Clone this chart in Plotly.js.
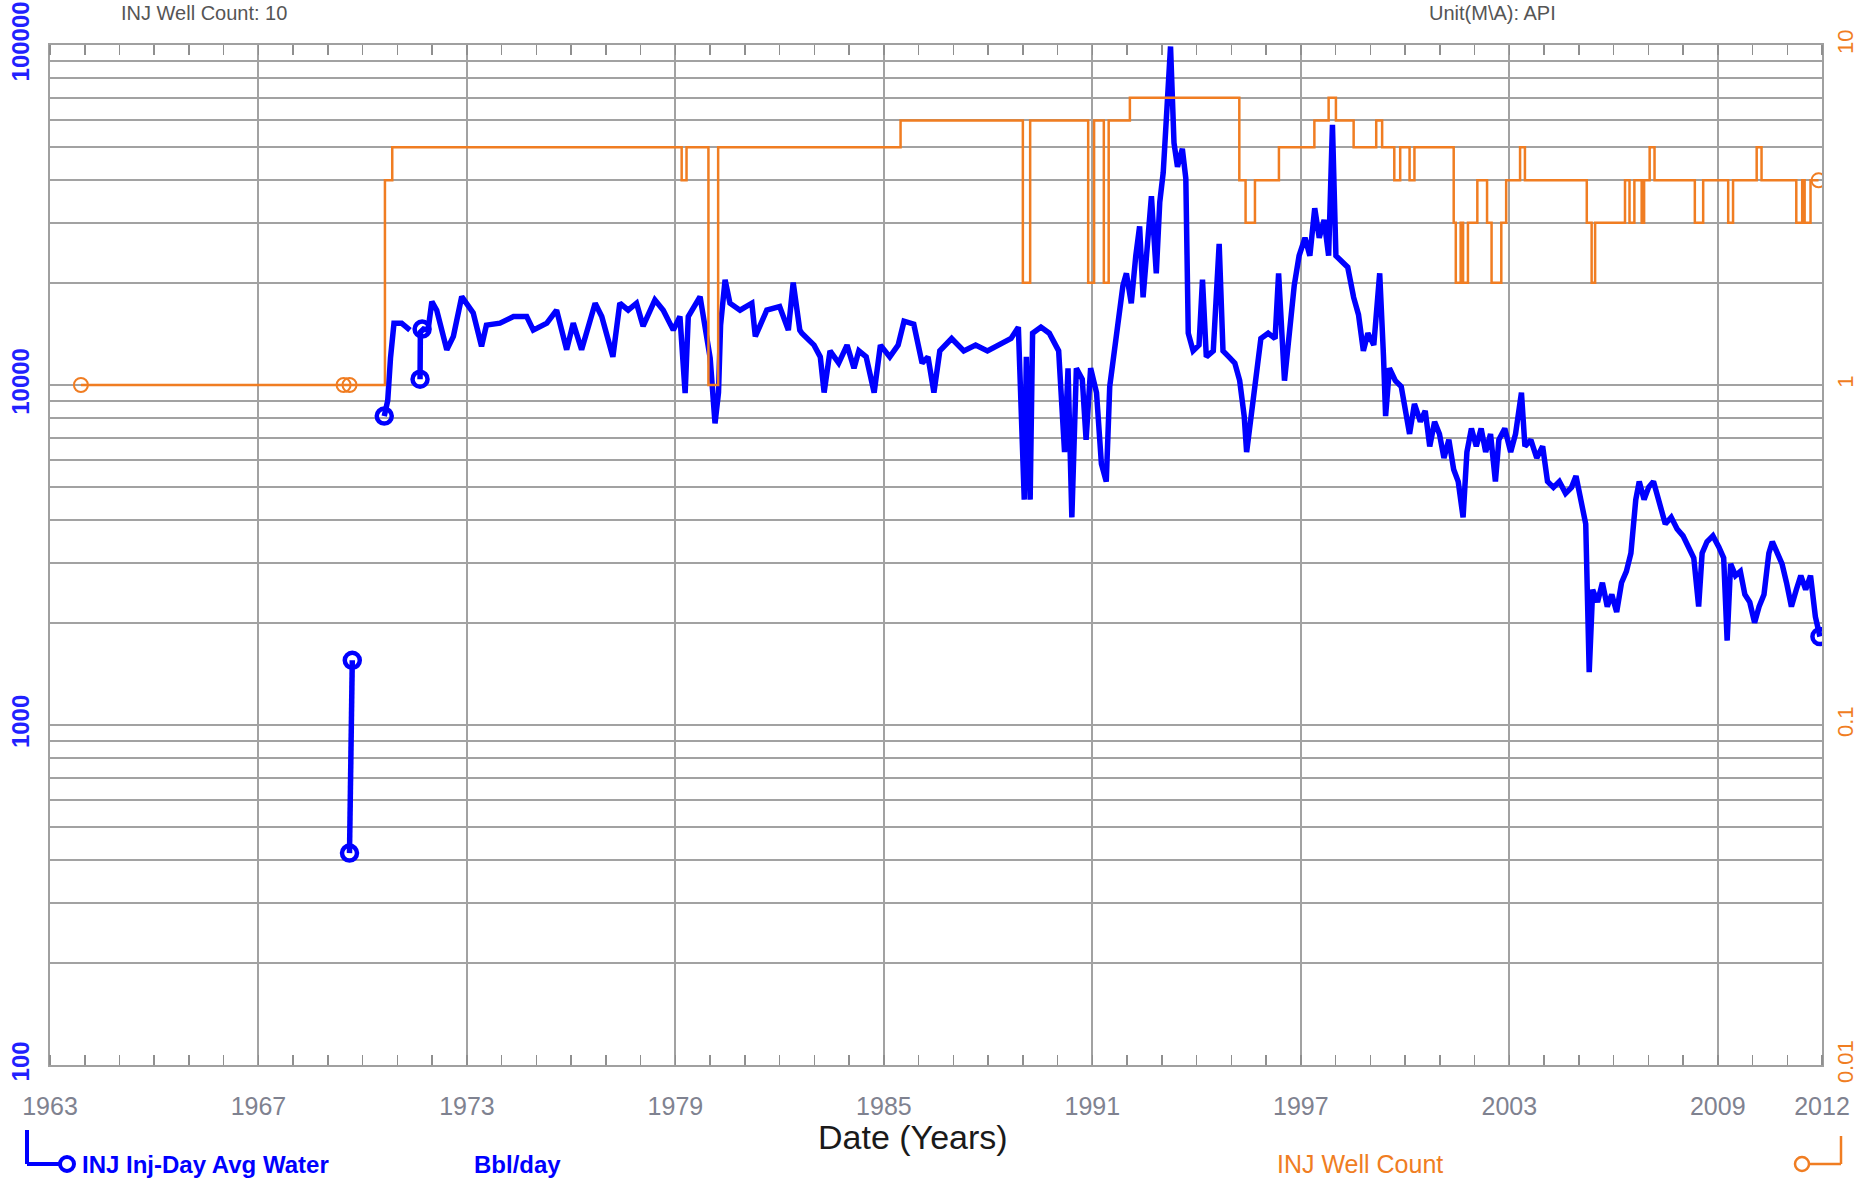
<!DOCTYPE html>
<html><head><meta charset="utf-8">
<script src="https://cdn.plot.ly/plotly-3.0.1.min.js"></script>
<style>html,body{margin:0;padding:0;background:#fff;}#chart{width:1865px;height:1181px;}</style>
</head><body><div id="chart"></div>
<script>
// ---- Data: INJ Inj-Day Avg Water (Bbl/day), null = gap between segments ----
const waterYears = [
 1969.62, 1969.64, 1969.70, null,
 1970.62, 1970.72, 1970.80, 1970.90, 1971.12, 1971.36, null,
 1971.65, 1971.66, 1971.75, 1971.88, 1971.99, 1972.13, 1972.42, 1972.61, 1972.85, 1973.18,
 1973.42, 1973.56, 1973.95, 1974.34, 1974.72, 1974.91, 1975.30, 1975.58, 1975.87, 1976.06,
 1976.30, 1976.69, 1976.88, 1977.20, 1977.40, 1977.64, 1977.88, 1978.07, 1978.41, 1978.65,
 1978.94, 1979.13, 1979.28, 1979.37, 1979.71, 1979.85, 1980.00, 1980.14, 1980.24, 1980.30,
 1980.43, 1980.57, 1980.86, 1981.20, 1981.30, 1981.63, 1982.00, 1982.25, 1982.39, 1982.58,
 1982.64, 1982.99, 1983.17, 1983.28, 1983.45, 1983.70, 1983.94, 1984.14, 1984.28, 1984.49,
 1984.72, 1984.90, 1985.17, 1985.41, 1985.58, 1985.86, 1986.10, 1986.27, 1986.44, 1986.61,
 1986.95, 1987.30, 1987.64, 1987.98, 1988.32, 1988.66, 1988.87, 1989.04, 1989.10, 1989.21,
 1989.28, 1989.52, 1989.76, 1990.03, 1990.20, 1990.30, 1990.41, 1990.54, 1990.71, 1990.82,
 1990.95, 1991.12, 1991.26, 1991.40, 1991.50, 1991.64, 1991.74, 1991.88, 1991.98, 1992.12,
 1992.25, 1992.36, 1992.46, 1992.60, 1992.70, 1992.84, 1992.94, 1993.04, 1993.14, 1993.25,
 1993.35, 1993.45, 1993.59, 1993.69, 1993.76, 1993.90, 1994.07, 1994.17, 1994.28, 1994.48,
 1994.65, 1994.76, 1994.93, 1995.10, 1995.24, 1995.37, 1995.44, 1995.58, 1995.71, 1995.85,
 1996.06, 1996.26, 1996.36, 1996.47, 1996.53, 1996.67, 1996.81, 1996.95, 1997.12, 1997.26,
 1997.40, 1997.53, 1997.67, 1997.80, 1997.91, 1998.01, 1998.18, 1998.35, 1998.52, 1998.66,
 1998.80, 1998.93, 1999.10, 1999.27, 1999.38, 1999.44, 1999.55, 1999.72, 1999.89, 2000.03,
 2000.13, 2000.27, 2000.44, 2000.58, 2000.71, 2000.85, 2000.99, 2001.12, 2001.26, 2001.40,
 2001.53, 2001.67, 2001.78, 2001.91, 2002.05, 2002.19, 2002.32, 2002.46, 2002.60, 2002.70,
 2002.87, 2003.04, 2003.18, 2003.35, 2003.45, 2003.62, 2003.79, 2003.96, 2004.10, 2004.27,
 2004.44, 2004.62, 2004.79, 2004.92, 2005.06, 2005.20, 2005.30, 2005.40, 2005.54, 2005.68,
 2005.82, 2005.95, 2006.09, 2006.23, 2006.37, 2006.50, 2006.64, 2006.74, 2006.88, 2007.01,
 2007.15, 2007.32, 2007.49, 2007.66, 2007.83, 2008.00, 2008.17, 2008.31, 2008.45, 2008.55,
 2008.69, 2008.86, 2009.03, 2009.17, 2009.27, 2009.37, 2009.51, 2009.65, 2009.78, 2009.92,
 2010.06, 2010.19, 2010.33, 2010.47, 2010.57, 2010.71, 2010.85, 2010.98, 2011.12, 2011.26,
 2011.39, 2011.53, 2011.67, 2011.81, 2011.94
];
const waterValues = [
 420, 780, 1550, null,
 8100, 9000, 12000, 15200, 15200, 14500, null,
 10400, 14300, 14600, 14500, 17600, 16600, 12700, 13900, 18200, 16300,
 13000, 15000, 15200, 15900, 15900, 14500, 15200, 16600, 12700, 15200,
 12700, 17400, 15900, 12100, 17400, 16600, 17400, 14900, 17800, 16600,
 14500, 15900, 9470, 15900, 18200, 15200, 12000, 7710, 9500, 15000,
 20400, 17400, 16600, 17400, 13900, 16600, 17000, 14500, 20000, 14500,
 14200, 13100, 12100, 9500, 12600, 11600, 13100, 11200, 12600, 12100,
 9500, 13100, 12100, 13100, 15400, 15100, 11600, 12100, 9500, 12600,
 13700, 12600, 13100, 12600, 13100, 13700, 14800, 4600, 12100, 4600,
 14200, 14800, 14200, 12600, 6350, 11200, 4080, 11200, 10400, 6900,
 11200, 9500, 5860, 5200, 9900, 13100, 15400, 19600, 21300, 17400,
 24000, 29300, 18100, 27100, 35900, 21300, 34500, 42200, 60500, 99000,
 51500, 43800, 49500, 40500, 14200, 12600, 13100, 20400, 12100, 12600,
 26000, 12600, 12100, 11600, 10300, 8100, 6350, 8400, 11200, 13700,
 14200, 13700, 21300, 13100, 10300, 14200, 19600, 24000, 27100, 24000,
 33100, 27100, 30600, 24000, 58200, 24000, 23100, 22200, 18100, 16100,
 12600, 14200, 13100, 21300, 12100, 8100, 11200, 10300, 9900, 8400,
 7180, 8800, 7800, 8400, 6600, 7800, 7180, 6100, 6900, 5640,
 5200, 4080, 6350, 7450, 6600, 7450, 6350, 7180, 5200, 6900,
 7450, 6350, 7180, 9500, 6600, 6900, 6100, 6600, 5200, 5000,
 5200, 4800, 5000, 5400, 4600, 3900, 1430, 2500, 2300, 2620,
 2230, 2420, 2150, 2620, 2830, 3200, 4600, 5200, 4600, 5000,
 5200, 4450, 3900, 4080, 3770, 3600, 3340, 3100, 2230, 3200,
 3460, 3600, 3340, 3100, 1770, 2980, 2750, 2830, 2420, 2300,
 2000, 2230, 2420, 3200, 3460, 3200, 2980, 2620, 2230, 2500,
 2750, 2500, 2750, 2080, 1820
];
const waterMarkYears = [1969.62, 1969.70, 1970.62, 1971.65, 1971.71, 2011.94];
const waterMarkValues = [420, 1550, 8100, 10400, 14600, 1820];

// ---- Data: INJ Well Count (step series) ----
const wellYears = [
 1961.89, 1970.64, 1970.85, 1979.18, 1979.32, 1979.95, 1980.23, 1985.48, 1989.00, 1989.21,
 1990.88, 1991.05, 1991.33, 1991.47, 1992.08, 1995.23, 1995.41, 1995.68, 1996.37, 1997.39,
 1997.80, 1998.01, 1998.52, 1999.17, 1999.34, 1999.69, 1999.86, 2000.13, 2000.27, 2001.40,
 2001.46, 2001.60, 2001.67, 2001.81, 2002.08, 2002.36, 2002.49, 2002.77, 2002.91, 2003.31,
 2003.45, 2005.23, 2005.37, 2005.47, 2006.33, 2006.46, 2006.60, 2006.81, 2006.88, 2007.04,
 2007.18, 2008.34, 2008.58, 2009.30, 2009.44, 2010.12, 2010.26, 2011.26, 2011.43, 2011.50,
 2011.67, 2011.90
];
const wellCounts = [
 1, 4, 5, 4, 5, 1, 5, 6, 2, 6,
 2, 6, 2, 6, 7, 4, 3, 4, 5, 6,
 7, 6, 5, 6, 5, 4, 5, 4, 5, 3,
 2, 3, 2, 3, 4, 3, 2, 3, 4, 5,
 4, 3, 2, 3, 4, 3, 4, 3, 4, 5,
 4, 3, 4, 3, 4, 5, 4, 3, 4, 3,
 4, 4
];
const wellMarkYears = [1961.89, 1969.45, 1969.62, 2011.90];
const wellMarkCounts = [1, 1, 1, 4];

// ---- Axis labels ----
const xTickVals = [1961, 1967, 1973, 1979, 1985, 1991, 1997, 2003, 2009, 2012];
const xTickText = ['1963', '1967', '1973', '1979', '1985', '1991', '1997', '2003', '2009', '2012'];
const leftDecades = [100, 1000, 10000, 100000];
const rightTickVals = [0.01, 0.1, 1, 10];
const rightTickText = ['0.01', '0.1', '1', '10'];

// ---- Build gridline values for the log axis (1..9 per decade) ----
const gridVals = [], gridText = [];
leftDecades.forEach((d, i) => {
  const steps = (i === leftDecades.length - 1) ? [1] : [1,2,3,4,5,6,7,8,9];
  steps.forEach(m => { gridVals.push(d * m); gridText.push(m === 1 ? String(d) : ''); });
});

const BLUE = '#0000ff', ORANGE = '#f07d22', GRID = '#a2a2a2';
const L = 50, R = 1822, T = 45, B = 1065, W = 1865, H = 1181;
const px = x => (x - L) / (R - L);
const py = y => (B - y) / (B - T);

const traces = [
  {x: waterYears, y: waterValues, type: 'scatter', mode: 'lines', connectgaps: false,
   line: {color: BLUE, width: 5.5}, yaxis: 'y', hoverinfo: 'skip'},
  {x: waterMarkYears, y: waterMarkValues, type: 'scatter', mode: 'markers', yaxis: 'y',
   marker: {symbol: 'circle-open', size: 15, color: BLUE, line: {width: 4.5, color: BLUE}}},
  {x: wellYears, y: wellCounts, type: 'scatter', mode: 'lines', line: {color: ORANGE, width: 2.5, shape: 'hv'},
   yaxis: 'y2'},
  {x: wellMarkYears, y: wellMarkCounts, type: 'scatter', mode: 'markers', yaxis: 'y2',
   marker: {symbol: 'circle-open', size: 14, color: ORANGE, line: {width: 2, color: ORANGE}}}
];

const tickFamily = 'Liberation Sans Narrow, Arial Narrow, Liberation Sans, Arial, sans-serif';
const layout = {
  width: W, height: H, showlegend: false,
  paper_bgcolor: '#fff', plot_bgcolor: '#fff',
  margin: {l: L, r: W - R, t: T, b: H - B, pad: 0},
  font: {family: 'Liberation Sans, Arial, sans-serif'},
  xaxis: {type: 'linear', range: [1961, 2012], tickmode: 'array', tickvals: xTickVals, ticktext: xTickText,
    showgrid: true, gridcolor: GRID, gridwidth: 2, zeroline: false,
    showline: true, linecolor: '#a0a0a0', linewidth: 2, mirror: 'ticks', ticks: '',
    ticklabelstandoff: 18, tickfont: {family: tickFamily, size: 25, color: '#7f8290'},
    minor: {dtick: 1, tick0: 1961, ticks: 'inside', ticklen: 10, tickwidth: 1.5, tickcolor: '#8f8f8f', showgrid: false}},
  yaxis: {type: 'log', range: [2, 5], tickmode: 'array', tickvals: gridVals, ticktext: gridText, tickangle: -90,
    showgrid: true, gridcolor: GRID, gridwidth: 2, zeroline: false,
    showline: true, linecolor: '#a0a0a0', linewidth: 2, mirror: true, ticks: '',
    ticklabelstandoff: 9, tickfont: {family: 'Liberation Sans, Arial', size: 24, color: '#2121ff', weight: 'bold'}},
  yaxis2: {type: 'log', range: [-2, 1], overlaying: 'y', side: 'right', tickmode: 'array',
    tickvals: rightTickVals, ticktext: rightTickText, tickangle: -90, showgrid: false, zeroline: false,
    showline: false, ticks: '', ticklabelstandoff: 8,
    tickfont: {family: 'Liberation Sans, Arial', size: 22, color: ORANGE}},
  annotations: [
    {text: 'INJ Well Count: 10', xref: 'paper', yref: 'paper', x: px(119), y: py(13), xanchor: 'left', yanchor: 'middle',
     showarrow: false, font: {size: 20, color: '#555'}},
    {text: 'Unit(M\\A): API', xref: 'paper', yref: 'paper', x: px(1427), y: py(13), xanchor: 'left', yanchor: 'middle',
     showarrow: false, font: {size: 20, color: '#555'}},
    {text: 'Date (Years)', xref: 'paper', yref: 'paper', x: px(913), y: py(1137), xanchor: 'center', yanchor: 'middle',
     showarrow: false, font: {size: 34, color: '#1a1a1a'}},
    {text: '<b>INJ Inj-Day Avg Water</b>', xref: 'paper', yref: 'paper', x: px(80), y: py(1164), xanchor: 'left', yanchor: 'middle',
     showarrow: false, font: {size: 24, color: BLUE}},
    {text: '<b>Bbl/day</b>', xref: 'paper', yref: 'paper', x: px(517), y: py(1164), xanchor: 'center', yanchor: 'middle',
     showarrow: false, font: {size: 24, color: BLUE}},
    {text: 'INJ Well Count', xref: 'paper', yref: 'paper', x: px(1360), y: py(1164), xanchor: 'center', yanchor: 'middle',
     showarrow: false, font: {size: 25, color: ORANGE}}
  ],
  shapes: [
    {type: 'line', xref: 'paper', yref: 'paper', x0: px(27), x1: px(27), y0: py(1130), y1: py(1164), line: {color: BLUE, width: 4}},
    {type: 'line', xref: 'paper', yref: 'paper', x0: px(27), x1: px(62), y0: py(1164), y1: py(1164), line: {color: BLUE, width: 4}},
    {type: 'circle', xref: 'paper', yref: 'paper', x0: px(60), x1: px(74), y0: py(1157), y1: py(1171), line: {color: BLUE, width: 4}, fillcolor: '#fff'},
    {type: 'line', xref: 'paper', yref: 'paper', x0: px(1841), x1: px(1841), y0: py(1136), y1: py(1164), line: {color: ORANGE, width: 2.5}},
    {type: 'line', xref: 'paper', yref: 'paper', x0: px(1808), x1: px(1841), y0: py(1164), y1: py(1164), line: {color: ORANGE, width: 2.5}},
    {type: 'circle', xref: 'paper', yref: 'paper', x0: px(1795), x1: px(1809), y0: py(1157), y1: py(1171), line: {color: ORANGE, width: 2.5}, fillcolor: '#fff'}
  ]
};

Plotly.newPlot('chart', traces, layout, {displayModeBar: false, staticPlot: true});
</script>
</body></html>
